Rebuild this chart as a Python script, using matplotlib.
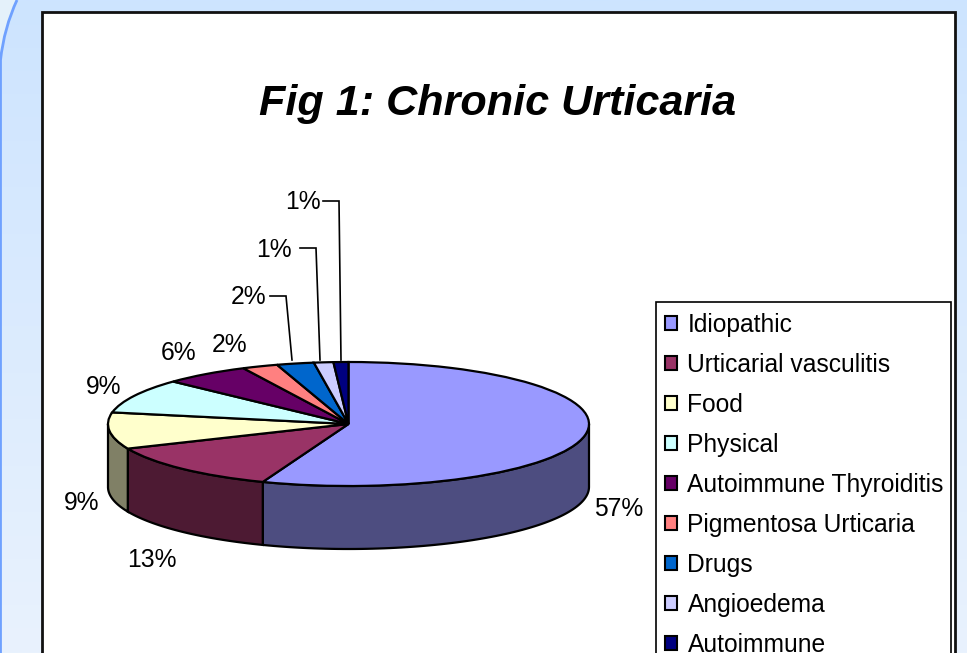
"""Chronic urticaria 3D style pie chart"""

import numpy as np
import matplotlib
matplotlib.use('Agg')
import matplotlib.pyplot as plt
from matplotlib.patches import PathPatch, Rectangle
from matplotlib.path import Path

plt.rcParams['font.family'] = ['Liberation Sans', 'DejaVu Sans']

categories = ['Idiopathic', 'Urticarial vasculitis', 'Food', 'Physical',
              'Autoimmune Thyroiditis', 'Pigmentosa Urticaria', 'Drugs',
              'Angioedema', 'Autoimmune']
values = [55.8, 12.7, 9.5, 9.0, 5.8, 2.4, 2.5, 1.3, 1.0]
pct_labels = ['57%', '13%', '9%', '9%', '6%', '2%', '2%', '1%', '1%']
colors = ['#9999FF', '#993366', '#FFFFCC', '#CCFFFF', '#660066',
          '#FF8080', '#0066CC', '#CCCCFF', '#000080']
title = 'Fig 1: Chronic Urticaria'

W, H = 967, 653
fig = plt.figure(figsize=(W/100, H/100), dpi=100)

# whole figure axes in pixel coordinates for background, frame and text
bg = fig.add_axes([0, 0, 1, 1])
bg.set_xlim(0, W)
bg.set_ylim(H, 0)
bg.axis('off')

grad = np.linspace(0, 1, 256).reshape(-1, 1)
cmap = matplotlib.colors.LinearSegmentedColormap.from_list('bg', ['#CDE4FF', '#E9F2FD'])
bg.imshow(grad, extent=(0, W, H, 0), aspect='auto', cmap=cmap, zorder=0)

# pale rounded corner at the left
corner = Path([(0, H), (0, 60), (3, 30), (17, 0), (0, 0), (0, H)],
              [Path.MOVETO, Path.LINETO, Path.CURVE3, Path.CURVE3, Path.LINETO, Path.CLOSEPOLY])
bg.add_patch(PathPatch(corner, fc='#E4F1FA', ec='none', zorder=1))
edge = Path([(0.5, H), (0.5, 60), (4, 28), (17, 0)],
            [Path.MOVETO, Path.LINETO, Path.CURVE3, Path.CURVE3])
bg.add_patch(PathPatch(edge, fc='none', ec='#6FA1FF', lw=2, zorder=2))

bg.add_patch(Rectangle((42, 12), 913, H, fc='white', ec='#111111', lw=2, zorder=3))

bg.text(498, 103.5, title, fontsize=31.1, fontweight='bold', fontstyle='italic',
        ha='center', va='center', zorder=5)

# pie label positions and leader lines
label_xy = [(619, 509), (152, 560), (82, 503), (104, 387), (179, 353),
            (230, 345), (249, 297), (274, 250), (303, 202)]
for txt, (x, y) in zip(pct_labels, label_xy):
    bg.text(x, y, txt, fontsize=17.7, ha='center', va='center', zorder=5)

leaders = [[(270, 296), (286, 296), (292, 360)],
           [(300, 248), (316, 248), (320, 360)],
           [(323, 201), (339, 201), (341, 360)]]
for pts in leaders:
    xs, ys = zip(*pts)
    bg.plot(xs, ys, color='black', lw=1.2, zorder=5, solid_joinstyle='miter')

# pie on its own squashed axes
cx, cy, rx, ry, depth = 348.5, 424, 240.5, 62, 63
ax = fig.add_axes([(cx-rx)/W, 1-(cy+ry)/H, 2*rx/W, 2*ry/H])
ax.patch.set_visible(False)
wedges, _ = ax.pie(values, colors=colors, startangle=90, counterclock=False, radius=1,
                   wedgeprops={'edgecolor': 'black', 'linewidth': 1.6, 'clip_on': False,
                               'zorder': 3})
ax.set_aspect('auto')
ax.set_xlim(-1, 1)
ax.set_ylim(-1, 1)
ax.axis('off')

# side wall of the front slices, darker shade of each slice
fractions = np.cumsum([0] + values) / np.sum(values)
d = 2 * depth / (2 * ry)
for i in range(len(values)):
    a = max(fractions[i] * 360, 90)
    b = min(fractions[i+1] * 360, 270)
    if b <= a:
        continue
    t = np.radians(np.linspace(a, b, 80))
    xs = np.sin(t)
    ys = np.cos(t)
    px = np.concatenate((xs, xs[::-1]))
    py = np.concatenate((ys, ys[::-1] - d))
    rgb = np.array(matplotlib.colors.to_rgb(colors[i])) * 0.5
    ax.fill(px, py, fc=rgb, ec='black', lw=1.6, clip_on=False, zorder=2)

# legend box runs past the bottom of the figure like the original
bg.add_patch(Rectangle((656, 302), 295, H, fc='white', ec='black', lw=1.2, zorder=4))
leg = bg.legend(wedges, categories, loc='upper left', bbox_to_anchor=(656, 304),
                bbox_transform=bg.transData, fontsize=17.7, frameon=False,
                borderaxespad=0, borderpad=0.36, handlelength=0.5, handleheight=0.5,
                handletextpad=0.42, labelspacing=0.65)
leg.set_zorder(6)
for h in leg.get_patches():
    h.set_linewidth(1.5)
    h.set_edgecolor('black')

fig.savefig('out.png', dpi=100)
